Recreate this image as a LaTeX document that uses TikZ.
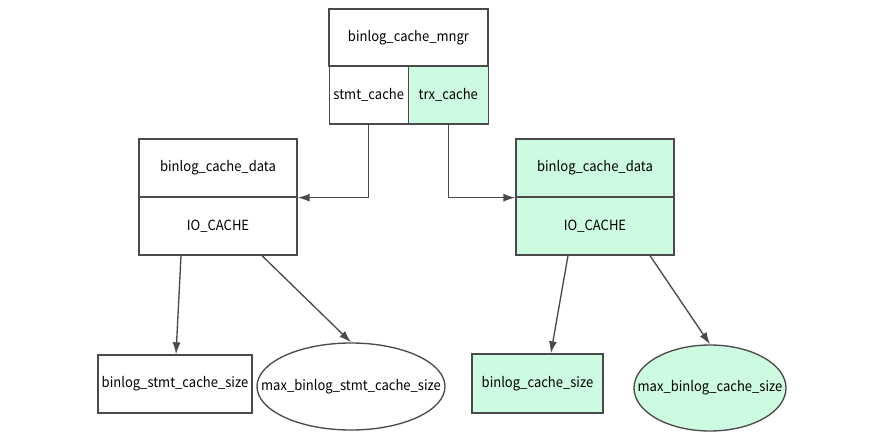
\documentclass[tikz,border=0pt]{standalone}
\usepackage{fontspec}
\setmainfont[FakeStretch=0.93]{Noto Sans CJK SC}
\usetikzlibrary{arrows.meta,shapes.geometric}
\definecolor{cachegreen}{HTML}{CCFBE1}
\definecolor{linegray}{HTML}{4A4A4A}
\tikzstyle{field}=[draw=linegray,line width=1pt,rectangle,inner sep=0pt,font=\fontsize{10.5}{12}\selectfont]
\tikzstyle{param}=[draw=linegray,line width=1pt,ellipse,inner sep=0pt,font=\fontsize{10.5}{12}\selectfont]
\tikzstyle{used}=[fill=cachegreen]
\tikzstyle{link}=[draw=linegray,line width=1pt,-{Latex[length=9pt,width=6pt]}]

\begin{document}
\begin{tikzpicture}[x=0.75pt,y=-0.75pt]
				\useasboundingbox (0,0) rectangle (885,447);
				% First we draw the manager record
				\node[field,minimum width=119.25pt,minimum height=42.75pt] (mngr) at (408.5,37.5) {binlog\_cache\_mngr};
				\node[field,minimum width=59.25pt,minimum height=43.5pt] (stmt) at (368.75,95) {stmt\_cache};
				\node[field,used,minimum width=60pt,minimum height=43.5pt] (trx) at (448.25,95) {trx\_cache};

				% The two cache data records
				\foreach \pos/\name/\look in {{218/l/}, {595/r/used}}
				{
					\node[field,\look,minimum width=118.5pt,minimum height=43.5pt] (\name data) at (\pos,168) {binlog\_cache\_data};
					\node[field,\look,minimum width=118.5pt,minimum height=43.5pt] (\name io) at (\pos,226) {IO\_CACHE};
				}

				% Size parameters
				\node[field,minimum width=115.5pt,minimum height=43.5pt] (lsize) at (175,384) {binlog\_stmt\_cache\_size};
				\node[param,minimum width=141pt,minimum height=65.25pt] (lmax) at (351,386.5) {\makebox[0pt]{max\_binlog\_stmt\_cache\_size}};
				\node[field,used,minimum width=98.25pt,minimum height=44.25pt] (rsize) at (537.5,383.5) {binlog\_cache\_size};
				\node[param,used,minimum width=114pt,minimum height=64.5pt] (rmax) at (710,388) {\makebox[0pt]{max\_binlog\_cache\_size}};

				% Connect the records
				\path[link] (stmt.south) |- (ldata.south east);
				\path[link] (trx.south) |- (rdata.south west);
				\path[link] ([xshift=-27.75pt]lio.south) -- ([xshift=0.75pt]lsize.north);
				\path[link] ([xshift=33pt]lio.south) -- (lmax.north);
				\path[link] ([xshift=-20.25pt]rio.south) -- ([xshift=10pt]rsize.north);
				\path[link] ([xshift=41.25pt]rio.south) -- (rmax.north);
			\end{tikzpicture}
\end{document}
